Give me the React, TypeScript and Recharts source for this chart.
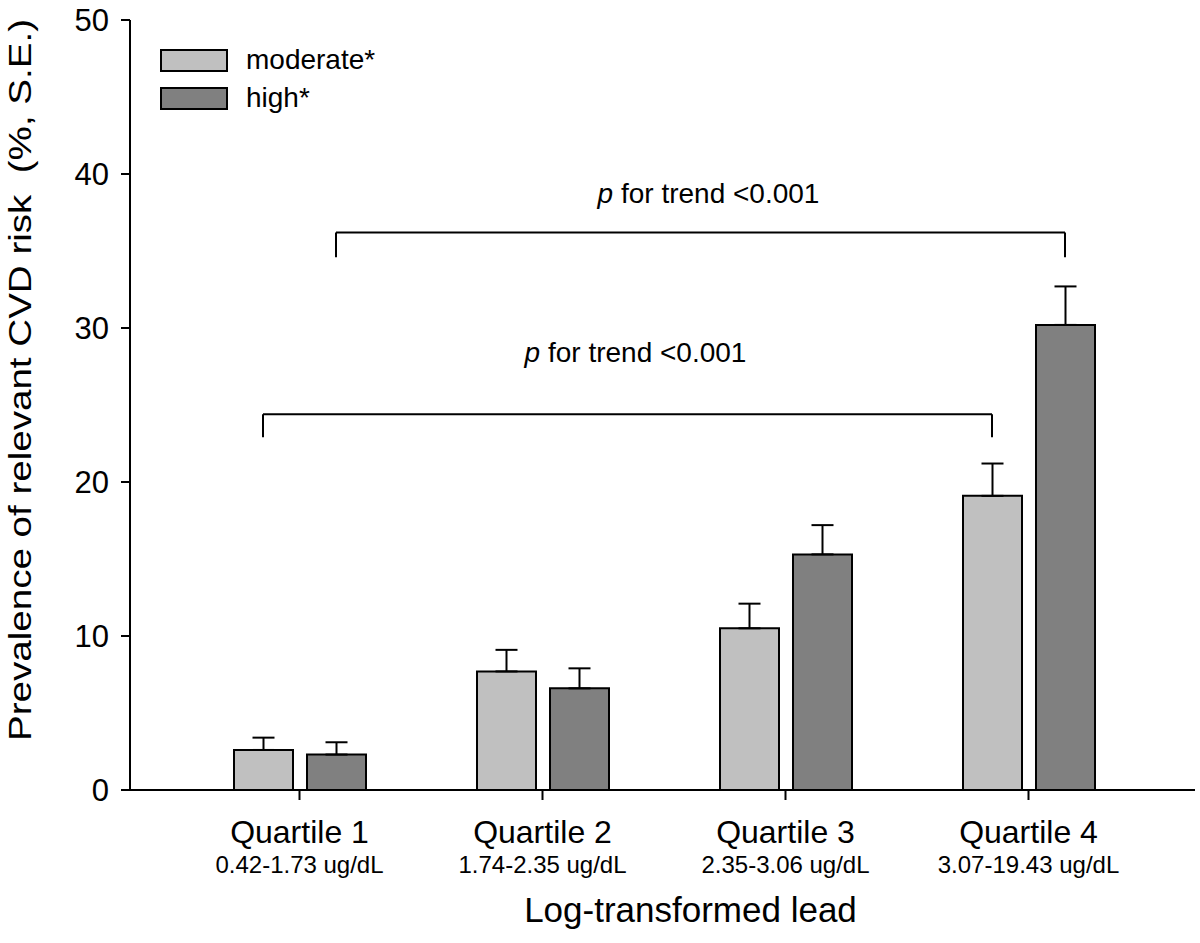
import React from 'react'
import { BarChart, Bar, XAxis, YAxis, ErrorBar, Legend, ReferenceLine } from 'recharts'

const quartiles = ['Quartile 1', 'Quartile 2', 'Quartile 3', 'Quartile 4']
const leadRanges = ['0.42-1.73 ug/dL', '1.74-2.35 ug/dL', '2.35-3.06 ug/dL', '3.07-19.43 ug/dL']
const moderate = [2.6, 7.7, 10.5, 19.1]
const moderateSE = [0.8, 1.4, 1.6, 2.1]
const high = [2.3, 6.6, 15.3, 30.2]
const highSE = [0.8, 1.3, 1.9, 2.5]
const yTicks = [0, 10, 20, 30, 40, 50]
const legendOrder = ['moderate*', 'high*']

// p-for-trend brackets (one per series): bar height of the bracket, end of the tips, text height
const trendSeries = ['moderate', 'high']
const trendLineY = [24.4, 36.2]
const trendTipY = [22.9, 34.6]
const trendLabelY = [27.8, 38.1]
const trendValue = '<0.001'

const data = quartiles.map((q, i) => ({
  quartile: q,
  moderate: moderate[i],
  moderateErr: [0, moderateSE[i]],
  high: high[i],
  highErr: [0, highSE[i]],
}))

const FONT = '"Liberation Sans", Arial, Helvetica, sans-serif'
const BAR = 59
const GAP = 14

const shiftFor = (series: string) => (series === 'moderate' ? -1 : 1) * (BAR + GAP) / 2

const shiftedLine = (dx: number) => (p: any) => (
  <line x1={p.x1 + dx} y1={p.y1} x2={p.x2 + dx} y2={p.y2} stroke="#000" strokeWidth={2} />
)

const QuartileTick = (props: any) => {
  const { x, y, payload, index } = props
  return (
    <g fontFamily={FONT} fill="#000">
      <text x={x} y={y + 41} textAnchor="middle" fontSize={32}>{payload.value}</text>
      <text x={x} y={y + 71} textAnchor="middle" fontSize={24}>{leadRanges[index]}</text>
    </g>
  )
}

const LegendBox = (props: any) => {
  const items = [...(props.payload || [])].sort(
    (a: any, b: any) => legendOrder.indexOf(a.value) - legendOrder.indexOf(b.value)
  )
  return (
    <div style={{ fontFamily: FONT, fontSize: 28, color: '#000' }}>
      {items.map((item: any) => (
        <div key={item.value} style={{ display: 'flex', alignItems: 'center', height: 38 }}>
          <div style={{ width: 68, height: 23, boxSizing: 'border-box', border: '2px solid #000', background: item.color }} />
          <span style={{ marginLeft: 18, lineHeight: '28px' }}>{item.value}</span>
        </div>
      ))}
    </div>
  )
}

export default function App() {
  return (
    <div style={{ position: 'absolute', left: 0, top: 0, background: '#fff' }}>
      <BarChart
        width={1200}
        height={943}
        data={data}
        margin={{ top: 20, right: 5, bottom: 0, left: 0 }}
        barSize={BAR}
        barGap={GAP}
      >
        <XAxis
          dataKey="quartile"
          height={153}
          padding={{ left: 48, right: 45 }}
          axisLine={{ stroke: '#000', strokeWidth: 2 }}
          tickLine={{ stroke: '#000', strokeWidth: 2 }}
          tickSize={10}
          tickMargin={2}
          interval={0}
          tick={<QuartileTick />}
          label={{
            content: ({ viewBox }: any) => (
              <text
                x={viewBox.x + viewBox.width / 2 + 28}
                y={viewBox.y + 132}
                textAnchor="middle"
                fontFamily={FONT}
                fontSize={35}
                fill="#000"
              >
                Log-transformed lead
              </text>
            ),
          }}
        />
        <YAxis
          width={130}
          domain={[0, 50]}
          ticks={yTicks}
          interval={0}
          axisLine={{ stroke: '#000', strokeWidth: 2 }}
          tickLine={{ stroke: '#000', strokeWidth: 2 }}
          tickSize={9}
          tickMargin={12}
          tick={{ fill: '#000', fontSize: 31, fontFamily: FONT }}
          label={{
            content: () => (
              <text
                x={31}
                y={380}
                transform="rotate(-90 31 380)"
                textAnchor="middle"
                fontFamily={FONT}
                fontSize={31}
                fill="#000"
                textLength={722}
                lengthAdjust="spacingAndGlyphs"
                style={{ whiteSpace: 'pre' }}
              >
                Prevalence of relevant CVD risk  (%, S.E.)
              </text>
            ),
          }}
        />
        <Legend
          layout="vertical"
          align="center"
          verticalAlign="middle"
          wrapperStyle={{ left: 160, top: 41, width: 'auto', height: 'auto' }}
          content={<LegendBox />}
        />
        <Bar dataKey="moderate" name="moderate*" fill="#c0c0c0" stroke="#000" strokeWidth={2} isAnimationActive={false}>
          <ErrorBar dataKey="moderateErr" width={11} stroke="#000" strokeWidth={2} direction="y" />
        </Bar>
        <Bar dataKey="high" name="high*" fill="#808080" stroke="#000" strokeWidth={2} isAnimationActive={false}>
          <ErrorBar dataKey="highErr" width={11} stroke="#000" strokeWidth={2} direction="y" />
        </Bar>

        {trendSeries.map((s, i) => {
          const dx = shiftFor(s)
          const first = quartiles[0]
          const last = quartiles[quartiles.length - 1]
          return (
            <React.Fragment key={s}>
              <ReferenceLine
                segment={[{ x: first, y: trendLineY[i] }, { x: last, y: trendLineY[i] }]}
                shape={shiftedLine(dx)}
              />
              <ReferenceLine
                segment={[{ x: first, y: trendLineY[i] }, { x: first, y: trendTipY[i] }]}
                shape={shiftedLine(dx)}
              />
              <ReferenceLine
                segment={[{ x: last, y: trendLineY[i] }, { x: last, y: trendTipY[i] }]}
                shape={shiftedLine(dx)}
              />
              <ReferenceLine
                segment={[{ x: first, y: trendLabelY[i] }, { x: last, y: trendLabelY[i] }]}
                stroke="none"
                label={{
                  content: ({ viewBox }: any) => (
                    <text
                      x={viewBox.x + viewBox.width / 2 + dx + 8}
                      y={viewBox.y}
                      textAnchor="middle"
                      fontFamily={FONT}
                      fontSize={28}
                      fill="#000"
                    >
                      <tspan fontStyle="italic">p</tspan> for trend {trendValue}
                    </text>
                  ),
                }}
              />
            </React.Fragment>
          )
        })}
      </BarChart>
    </div>
  )
}
